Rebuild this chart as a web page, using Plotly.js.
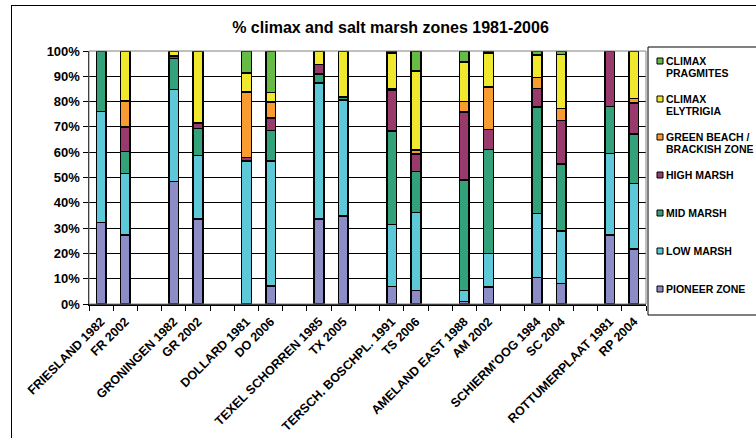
<!DOCTYPE html>
<html>
<head>
<meta charset="utf-8">
<script src="https://cdn.plot.ly/plotly-3.0.1.min.js"></script>
<style>
  html, body { margin:0; padding:0; background:#fff; overflow:hidden; }
  #wrap { position:relative; width:756px; height:438px; overflow:hidden; }
  #chart { position:absolute; left:0; top:0; width:756px; height:438px; }
  #frame { position:absolute; left:11px; top:5px; width:1000px; height:1000px;
           border:1.5px solid #000; pointer-events:none; z-index:5; }
</style>
</head>
<body>
<div id="wrap"><div id="chart"></div><div id="frame"></div></div>
<script>
// ---- data ----
const sites = ["FRIESLAND 1982","FR 2002","","GRONINGEN 1982","GR 2002","",
  "DOLLARD 1981","DO 2006","","TEXEL SCHORREN 1985","TX 2005","",
  "TERSCH. BOSCHPL. 1991","TS 2006","","AMELAND EAST 1988","AM 2002","",
  "SCHIERM'OOG 1984","SC 2004","","ROTTUMERPLAAT 1981","RP 2004"];

const pioneer   = [32.3,27.3,null,48.5,33.5,null,0,7.2,null,33.6,34.8,null,7.0,5.4,null,1.0,6.8,null,10.4,8.1,null,27.3,21.8];
const lowMarsh  = [43.7,24.3,null,36.3,25.1,null,56.6,49.4,null,53.8,45.8,null,24.5,30.7,null,4.4,13.2,null,25.3,20.8,null,32.1,25.9];
const midMarsh  = [24.0,8.7,null,12.2,10.8,null,0,11.9,null,3.5,1.3,null,36.8,16.2,null,43.6,41.1,null,42.1,26.4,null,18.7,19.4];
const highMarsh = [0,9.7,null,1.0,2.2,null,1.4,5.1,null,3.7,0,null,16.2,7.0,null,26.8,7.9,null,7.4,17.2,null,21.9,12.4];
const greenBeach= [0,10.3,null,0,0,null,25.8,6.3,null,0,0,null,0.5,1.5,null,4.2,16.8,null,4.3,4.8,null,0,1.7];
const elytrigia = [0,19.7,null,2.0,28.4,null,7.5,3.7,null,5.4,18.1,null,14.2,31.2,null,15.7,13.4,null,8.9,21.4,null,0,18.8];
const pragmites = [0,0,null,0,0,null,8.7,16.4,null,0,0,null,0.8,8.0,null,4.3,0.8,null,1.6,1.3,null,0,0];

const zoneNames = ["PIONEER ZONE","LOW MARSH","MID MARSH","HIGH MARSH",
  "GREEN BEACH /<br>BRACKISH ZONE","CLIMAX<br>ELYTRIGIA","CLIMAX<br>PRAGMITES"];
const zoneValues = [pioneer, lowMarsh, midMarsh, highMarsh, greenBeach, elytrigia, pragmites];
const zoneColors = ["#8C8CC6","#5CC8D8","#33A27A","#993A6C","#F89B30","#F0E82C","#66BB44"];

const titleText = "% climax and salt marsh zones 1981-2006";

// ---- geometry ----
const W = 756, H = 438;
const M = {l:89, r:110, t:51, b:134};
const PW = W - M.l - M.r, PH = H - M.t - M.b;
const px = v => (v - M.l) / PW;
const py = v => (H - M.b - v) / PH;

const idx = sites.map((s, i) => i);
const barIdx = idx.filter(i => sites[i] !== "");

const traces = zoneValues.map((vals, k) => ({
  type: 'bar',
  x: idx,
  y: vals,
  name: zoneNames[k].replace('<br>', ' '),
  marker: {color: zoneColors[k], line: {color: '#000', width: 1.5}},
  hoverinfo: 'skip'
}));

const shapes = [];
const annotations = [];
shapes.push({type:'rect', xref:'paper', yref:'paper', x0:0, x1:1, y0:0, y1:1,
  line:{color:'#808080', width:1}, fillcolor:'rgba(0,0,0,0)', layer:'above'});
shapes.push({type:'rect', xref:'paper', yref:'paper', x0:px(648), x1:px(820), y0:py(315), y1:py(47),
  line:{color:'#000', width:1}, fillcolor:'rgba(0,0,0,0)'});
const order = zoneNames.map((n, i) => i).reverse();
order.forEach((k, j) => {
  const yc = 61 + j * 38;
  shapes.push({type:'rect', xref:'paper', yref:'paper',
    x0:px(657), x1:px(663), y0:py(yc + 3), y1:py(yc - 3),
    fillcolor: zoneColors[k], line:{color:'#000', width:1}});
  zoneNames[k].split('<br>').forEach((line, li) => {
    annotations.push({xref:'paper', yref:'paper', x:px(664), y:py(yc + li * 12.3),
      xanchor:'left', yanchor:'middle', showarrow:false, text:'<b>' + line + '</b>',
      font:{size:10.5, color:'#000', family:'Liberation Sans, Arial, sans-serif'}});
  });
});

const layout = {
  width: W, height: H,
  margin: {l:M.l, r:M.r, t:M.t, b:M.b, autoexpand:false},
  paper_bgcolor: '#fff', plot_bgcolor: '#fff',
  barmode: 'stack', bargap: 0.6,
  showlegend: false,
  hovermode: false,
  font: {family:'Liberation Sans, Arial, sans-serif', color:'#000'},
  title: {text: '<b>' + titleText + '</b>', x: 390.5 / W, xref:'container', xanchor:'center',
          y: 1 - 27 / H, yref:'container', yanchor:'middle',
          font:{size:16, color:'#000'}},
  xaxis: {
    range: [-0.5, 22.5], tickmode:'array', tickvals: barIdx,
    ticktext: barIdx.map(i => '<b>' + sites[i] + '</b>'), tickangle: -45,
    ticks:'outside', ticklen:4, tickcolor:'rgba(0,0,0,0)',
    tickfont:{size:12.5},
    showline:true, linecolor:'#000', linewidth:1.5,
    showgrid:false, zeroline:false, fixedrange:true,
    minor:{tickmode:'linear', tick0:-0.5, dtick:1, ticks:'outside', ticklen:5,
           tickcolor:'#000', tickwidth:1, showgrid:false}
  },
  yaxis: {
    range:[0, 100], tickmode:'array', tickvals:[0,10,20,30,40,50,60,70,80,90,100],
    ticktext:['0%','10%','20%','30%','40%','50%','60%','70%','80%','90%','100%'].map(t => '<b>' + t + '</b>'),
    showgrid:true, gridcolor:'#000', gridwidth:1,
    ticks:'outside', ticklen:5, tickcolor:'#000', tickwidth:1,
    showline:true, linecolor:'#000', linewidth:1.5, zeroline:false,
    tickfont:{size:13}, fixedrange:true
  },
  shapes: shapes,
  annotations: annotations
};

Plotly.newPlot('chart', traces, layout, {staticPlot:true, displayModeBar:false});
</script>
</body>
</html>
